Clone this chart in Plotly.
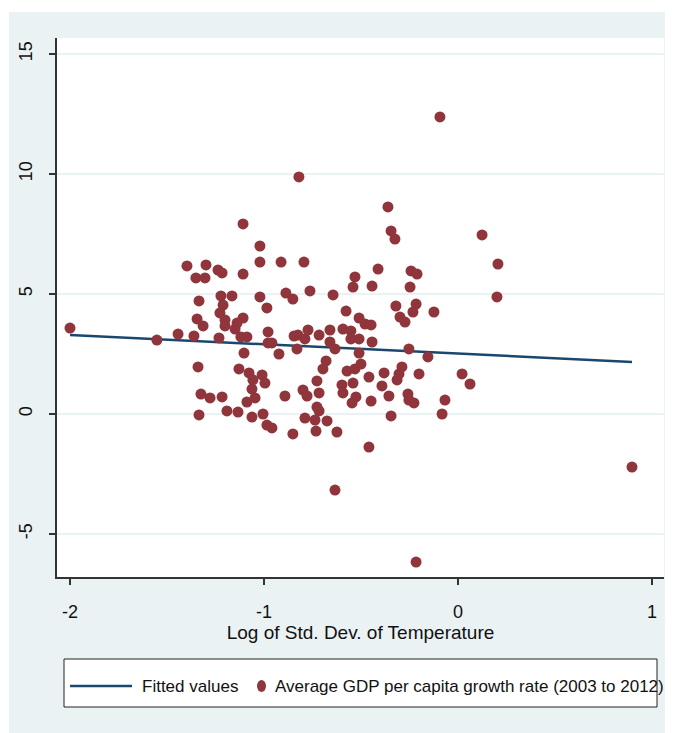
import plotly.graph_objects as go

# Scatter data: log of std. dev. of temperature vs average GDP per capita growth (2003-2012)
log_sd_temp = [
    -0.093, -0.82, -0.361, -1.108, -0.345, -0.325, 0.124, -1.021, 0.206, 0.201,
    -1.397, -1.299, -1.351, -1.304, -1.237, -1.216, -1.108, -1.021, -0.912, -0.794,
    -0.412, -0.531, -0.541, -0.443, -0.242, -0.211, -0.247,
    -1.335, -1.222, -1.165, -1.211, -1.227, -1.021, -0.985, -0.887, -0.851, -0.763,
    -0.644, -0.577, -0.320, -0.216, -0.232, -0.124,
    -1.345, -1.314, -1.201, -1.201, -1.108, -1.139, -1.149, -0.979, -1.552, -1.443,
    -1.361, -1.232, -1.119, -1.088, -0.979, -0.959, -0.845, -0.825, -0.789, -0.773,
    -0.716, -0.830, -1.103, -0.923, -0.660, -0.660, -0.634, -0.593, -0.552, -0.552,
    -0.510, -0.443, -0.510, -0.253, -0.155, -0.510, -0.479, -0.448, -0.299, -0.273,
    -1.340, -1.129, -1.077, -1.057, -1.062, -1.010, -0.995, -0.680, -0.696, -0.572,
    -0.531, -0.500, -0.727, -0.541, -0.459, -0.381, -0.392, -0.289, -0.304, -0.314,
    -0.201, 0.021, 0.062,
    -1.325, -1.278, -1.216, -1.088, -1.046, -0.892, -0.799, -0.778, -0.716, -0.598,
    -0.593, -0.526, -0.546, -0.448, -0.356, -0.258, -0.253, -0.227, -0.067,
    -0.727, -0.716, -1.335, -1.191, -1.134, -1.062, -1.005, -0.985, -0.959, -0.851,
    -0.789, -0.737, -0.732, -0.675, -0.624, -0.345, -0.082, -0.459, -0.634, -0.216,
    0.897, -2.0,
]
gdp_growth = [
    12.38, 9.88, 8.63, 7.92, 7.63, 7.29, 7.46, 7.0, 6.25, 4.88,
    6.17, 6.21, 5.67, 5.67, 6.0, 5.88, 5.83, 6.33, 6.33, 6.33,
    6.04, 5.71, 5.29, 5.33, 5.96, 5.83, 5.29,
    4.71, 4.92, 4.92, 4.54, 4.21, 4.88, 4.42, 5.04, 4.79, 5.13,
    4.96, 4.29, 4.5, 4.58, 4.25, 4.25,
    3.96, 3.67, 3.92, 3.67, 4.0, 3.79, 3.54, 3.42, 3.08, 3.33,
    3.25, 3.17, 3.21, 3.21, 2.96, 2.96, 3.25, 3.29, 3.13, 3.5,
    3.29, 2.71, 2.54, 2.5, 3.5, 3.0, 2.71, 3.54, 3.46, 3.13,
    3.13, 3.0, 2.54, 2.71, 2.38, 4.0, 3.75, 3.71, 4.04, 3.83,
    1.96, 1.88, 1.71, 1.42, 1.04, 1.63, 1.29, 2.21, 1.88, 1.79,
    1.88, 2.08, 1.38, 1.29, 1.54, 1.71, 1.17, 1.96, 1.67, 1.42,
    1.67, 1.67, 1.25,
    0.83, 0.67, 0.71, 0.5, 0.67, 0.75, 1.0, 0.75, 0.88, 1.21,
    0.88, 0.71, 0.46, 0.54, 0.75, 0.83, 0.58, 0.46, 0.58,
    0.29, 0.13, -0.04, 0.13, 0.08, -0.13, 0.0, -0.46, -0.58, -0.83,
    -0.17, -0.25, -0.71, -0.29, -0.75, -0.08, 0.0, -1.38, -3.17, -6.17,
    -2.21, 3.58,
]

# Fitted values line (endpoints)
fit_x = [-2.0, 0.897]
fit_y = [3.29, 2.17]

# Axis ticks
x_tickvals = [-2, -1, 0, 1]
x_ticktext = ["-2", "-1", "0", "1"]
y_tickvals = [-5, 0, 5, 10, 15]
y_ticktext = ["-5", "0", "5", "10", "15"]

# Legend labels
line_label = "Fitted values"
scatter_label = "Average GDP per capita growth rate (2003 to 2012)"

FONT = "Liberation Sans, Arial, sans-serif"
BG = "#EAF2F3"
NAVY = "#1A476F"
MAROON = "#90353B"

fig = go.Figure()
fig.add_trace(go.Scatter(
    x=fit_x, y=fit_y, mode="lines", name=line_label,
    line=dict(color=NAVY, width=2.5),
))
fig.add_trace(go.Scatter(
    x=log_sd_temp, y=gdp_growth, mode="markers", name=scatter_label,
    marker=dict(color=MAROON, size=11, line=dict(width=0)),
))

# page is offset by the 8px body margin
W, H = 665, 725
L, R, T, B = 49, 9, 30, 156
pw, ph = W - L - R, H - T - B

def px_x(px):
    return (px - L) / pw

def px_y(py):
    return (H - B - py) / ph

legend_y = 678
shapes = [
    # white strips outside the graph region
    dict(type="rect", xref="paper", yref="paper", layer="below",
         x0=px_x(-5), x1=px_x(1), y0=px_y(740), y1=px_y(-5),
         fillcolor="white", line=dict(width=0)),
    dict(type="rect", xref="paper", yref="paper", layer="below",
         x0=px_x(-5), x1=px_x(680), y0=px_y(4), y1=px_y(-5),
         fillcolor="white", line=dict(width=0)),
    # legend box
    dict(type="rect", xref="paper", yref="paper",
         x0=px_x(56), x1=px_x(649), y0=px_y(699), y1=px_y(651),
         fillcolor="white", line=dict(color="#222222", width=1)),
    # legend line sample
    dict(type="line", xref="paper", yref="paper",
         x0=px_x(62), x1=px_x(124), y0=px_y(legend_y), y1=px_y(legend_y),
         line=dict(color=NAVY, width=2.5)),
    # legend marker sample
    dict(type="circle", xref="paper", yref="paper",
         x0=px_x(249), x1=px_x(258), y0=px_y(legend_y + 6), y1=px_y(legend_y - 6),
         fillcolor=MAROON, line=dict(width=0)),
]

annotations = [
    dict(text=line_label, xref="paper", yref="paper", x=px_x(132), y=px_y(legend_y),
         xanchor="left", yanchor="middle", showarrow=False,
         font=dict(family=FONT, size=17, color="#111111")),
    dict(text=scatter_label, xref="paper", yref="paper", x=px_x(265), y=px_y(legend_y),
         xanchor="left", yanchor="middle", showarrow=False,
         font=dict(family=FONT, size=17, color="#111111")),
]

fig.update_layout(
    width=W, height=H,
    margin=dict(l=L, r=R, t=T, b=B, pad=0),
    paper_bgcolor=BG, plot_bgcolor="white",
    font=dict(family=FONT, size=18, color="#111111"),
    shapes=shapes, annotations=annotations,
    showlegend=False,
    xaxis=dict(
        range=[-2.067, 1.062], tickvals=x_tickvals, ticktext=x_ticktext,
        showgrid=False, zeroline=False,
        showline=True, linecolor="#333333", linewidth=1.5,
        ticks="outside", ticklen=6, tickcolor="#333333", tickwidth=1.5,
        ticklabelstandoff=12,
        title=dict(text="Log of Std. Dev. of Temperature", font=dict(size=19), standoff=2),
        automargin=False,
    ),
    yaxis=dict(
        range=[-6.792, 15.667], tickvals=y_tickvals, ticktext=y_ticktext,
        showgrid=True, gridcolor=BG, gridwidth=2, zeroline=False,
        showline=True, linecolor="#333333", linewidth=1.5,
        ticks="outside", ticklen=6, tickcolor="#333333", tickwidth=1.5,
        tickangle=-90, ticklabelstandoff=10,
        automargin=False,
    ),
)

fig.write_html("out.html")
